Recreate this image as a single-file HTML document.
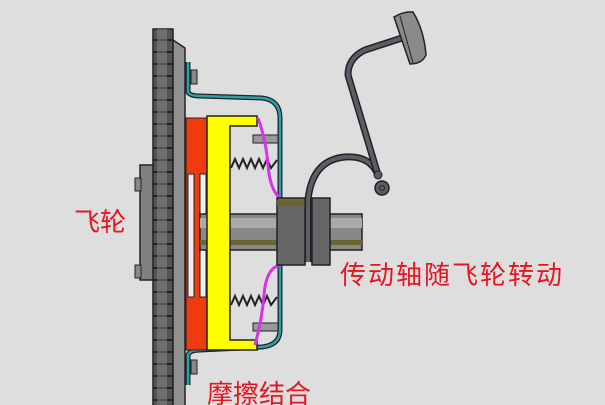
<!DOCTYPE html>
<html><head><meta charset="utf-8"><style>
html,body{margin:0;padding:0;background:#dedede;}
svg{display:block}
text{font-family:"Liberation Sans","Noto Sans CJK SC",sans-serif;fill:#e8141e;}
</style></head><body>
<svg width="605" height="405" viewBox="0 0 605 405" xmlns="http://www.w3.org/2000/svg">
<rect width="605" height="405" fill="#dedede"/>
<!-- hub left -->
<rect x="140" y="165" width="15" height="115" fill="#808080" stroke="#222" stroke-width="1.5"/>
<rect x="135" y="178" width="6" height="13" fill="#888" stroke="#222"/>
<rect x="135" y="265" width="6" height="13" fill="#888" stroke="#222"/>
<!-- flywheel teeth -->
<rect x="153" y="29" width="20" height="380" fill="#555" stroke="#222" stroke-width="1.5"/>
<g stroke="#222" stroke-width="2">
<line x1="153" y1="40" x2="173" y2="40"/><line x1="153" y1="52" x2="173" y2="52"/><line x1="153" y1="64" x2="173" y2="64"/><line x1="153" y1="76" x2="173" y2="76"/><line x1="153" y1="88" x2="173" y2="88"/><line x1="153" y1="100" x2="173" y2="100"/><line x1="153" y1="112" x2="173" y2="112"/><line x1="153" y1="124" x2="173" y2="124"/><line x1="153" y1="136" x2="173" y2="136"/><line x1="153" y1="148" x2="173" y2="148"/><line x1="153" y1="160" x2="173" y2="160"/><line x1="153" y1="172" x2="173" y2="172"/><line x1="153" y1="184" x2="173" y2="184"/><line x1="153" y1="196" x2="173" y2="196"/><line x1="153" y1="208" x2="173" y2="208"/><line x1="153" y1="220" x2="173" y2="220"/><line x1="153" y1="232" x2="173" y2="232"/><line x1="153" y1="244" x2="173" y2="244"/><line x1="153" y1="256" x2="173" y2="256"/><line x1="153" y1="268" x2="173" y2="268"/><line x1="153" y1="280" x2="173" y2="280"/><line x1="153" y1="292" x2="173" y2="292"/><line x1="153" y1="304" x2="173" y2="304"/><line x1="153" y1="316" x2="173" y2="316"/><line x1="153" y1="328" x2="173" y2="328"/><line x1="153" y1="340" x2="173" y2="340"/><line x1="153" y1="352" x2="173" y2="352"/><line x1="153" y1="364" x2="173" y2="364"/><line x1="153" y1="376" x2="173" y2="376"/><line x1="153" y1="388" x2="173" y2="388"/><line x1="153" y1="400" x2="173" y2="400"/>
</g>
<rect x="157" y="29" width="10" height="380" fill="#8a8a8a" opacity="0.5"/>
<!-- flywheel body -->
<path d="M173 40 L185 48 L185 409 L173 409 Z" fill="#909090" stroke="#222" stroke-width="1.5"/>
<!-- cover -->
<path d="M188 62 L188 92 Q190 96 200 96 L262 98 Q280 100 280 118 L280 330 Q280 345 262 347 L200 350 Q190 350 188 355 L188 385" fill="none" stroke="#222" stroke-width="5"/>
<path d="M188 62 L188 92 Q190 96 200 96 L262 98 Q280 100 280 118 L280 330 Q280 345 262 347 L200 350 Q190 350 188 355 L188 385" fill="none" stroke="#2aa0a8" stroke-width="2.5"/>
<rect x="191" y="70" width="6" height="14" fill="#888" stroke="#222"/>
<rect x="191" y="360" width="6" height="14" fill="#888" stroke="#222"/>
<!-- friction disc -->
<rect x="186" y="118" width="21" height="232" fill="#f03a10" stroke="#222"/>
<rect x="188" y="174" width="6" height="123" fill="#eee" stroke="#222"/>
<rect x="200" y="174" width="6" height="123" fill="#eee" stroke="#222"/>
<!-- shaft -->
<rect x="200" y="214" width="162" height="36" fill="#888" stroke="#222" stroke-width="1.5"/>
<rect x="200" y="218" width="162" height="10" fill="#aaa"/>
<rect x="200" y="240" width="162" height="5" fill="#6a6530"/>
<!-- yellow pressure plate -->
<path d="M207 116 L257 116 L257 126 L230 126 L230 340 L257 340 L257 350 L207 350 Z" fill="#ffff00" stroke="#222" stroke-width="1.5"/>
<!-- springs -->
<polyline points="231,168 235,159 239,168 243,159 247,168 251,159 255,168 259,159 263,168 267,159 271,168 277,160" fill="none" stroke="#222" stroke-width="2"/>
<polyline points="231,305 235,296 239,305 243,296 247,305 251,296 255,305 259,296 263,305 267,296 271,305 277,297" fill="none" stroke="#222" stroke-width="2"/>
<rect x="253" y="135" width="25" height="8" fill="#999" stroke="#222"/>
<rect x="253" y="323" width="25" height="8" fill="#999" stroke="#222"/>
<!-- magenta levers -->
<path d="M258 118 Q266 140 268 165 Q270 190 280 198" fill="none" stroke="#d633e8" stroke-width="3"/>
<path d="M255 345 Q262 320 264 295 Q266 268 280 265" fill="none" stroke="#d633e8" stroke-width="3"/>
<!-- bearing -->
<rect x="277" y="198" width="28" height="67" fill="#666" stroke="#222" stroke-width="1.5"/>
<rect x="277" y="200" width="28" height="6" fill="#6a6530"/>
<rect x="312" y="198" width="18" height="67" fill="#666" stroke="#222" stroke-width="1.5"/>
<!-- fork -->
<path d="M308 262 L308 200 Q312 160 345 157 Q370 155 378 175" fill="none" stroke="#222" stroke-width="7"/>
<path d="M308 262 L308 200 Q312 160 345 157 Q370 155 378 175" fill="none" stroke="#5a5e66" stroke-width="4"/>
<!-- pedal arm -->
<path d="M402 38 L365 50 Q348 58 348 75 L378 175" fill="none" stroke="#222" stroke-width="7"/>
<path d="M402 38 L365 50 Q348 58 348 75 L378 175" fill="none" stroke="#5a5e66" stroke-width="4"/>
<circle cx="378" cy="175" r="4" fill="#5a5e66" stroke="#222"/>
<circle cx="382" cy="188" r="7" fill="#5a5e66" stroke="#222" stroke-width="1.5"/>
<circle cx="382" cy="188" r="2.5" fill="none" stroke="#222"/>
<path d="M394 17 Q404 11 413 12 Q424 30 426 55 Q422 64 410 64 Z" fill="#8a8a8a" stroke="#222" stroke-width="1.5"/>
<line x1="400" y1="16" x2="413" y2="63" stroke="#222"/>
<!-- labels -->
<text x="74" y="231" font-size="26">飞轮</text>
<text x="340" y="284" font-size="26" letter-spacing="2">传动轴随飞轮转动</text>
<text x="207" y="403" font-size="26">摩擦结合</text>
</svg>
</body></html>
